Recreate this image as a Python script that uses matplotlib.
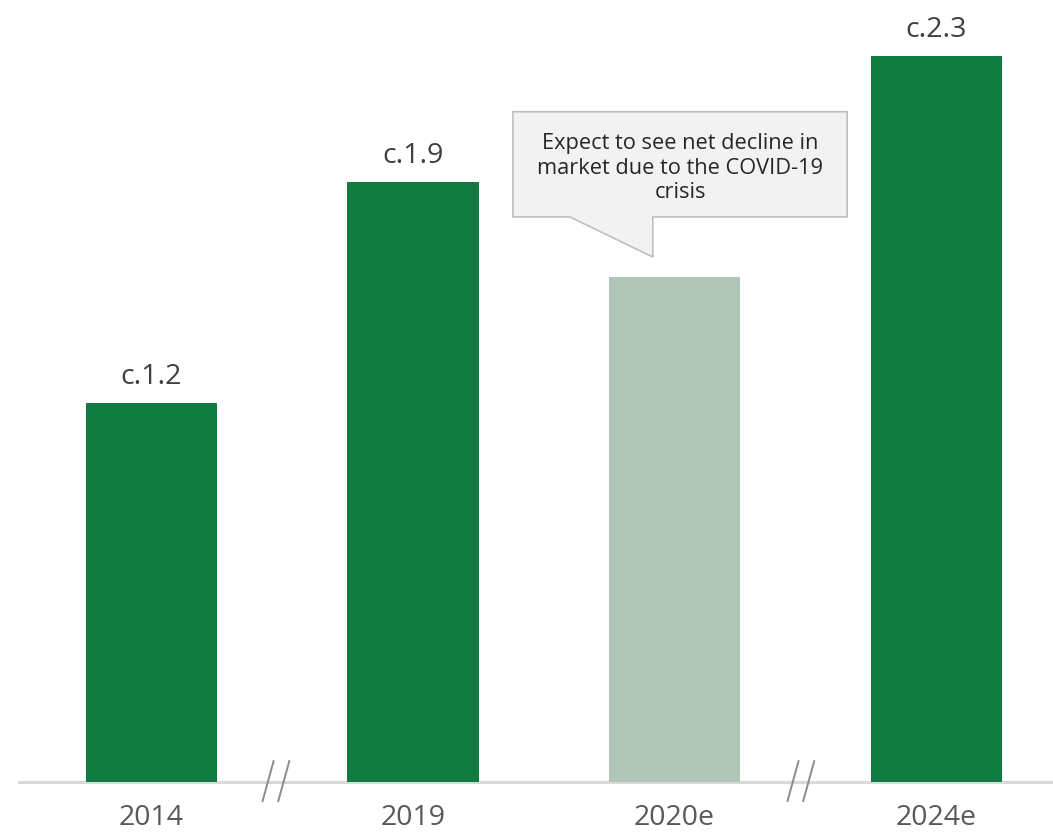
import matplotlib.pyplot as plt
from matplotlib.patches import Polygon

plt.rcParams['font.family'] = ['Open Sans', 'DejaVu Sans']

# data
years = ['2014', '2019', '2020e', '2024e']
values = [1.2, 1.9, 1.6, 2.3]
value_labels = ['c.1.2', 'c.1.9', '', 'c.2.3']
bar_colors = ['#107c41', '#107c41', '#afc6b9', '#107c41']
note = "Expect to see net decline in\nmarket due to the COVID-19\ncrisis"
break_positions = [0.476, 2.483]

fig = plt.figure(figsize=(10.53, 8.37), dpi=100)
ax = fig.add_axes([0, 54 / 837, 1, 783 / 837])

x = list(range(len(years)))
ax.bar(x, values, width=0.501, color=bar_colors, zorder=2)

for xi, v, lab in zip(x, values, value_labels):
    if lab:
        ax.annotate(lab, (xi, v), xytext=(0, 9), textcoords='offset points',
                    ha='center', va='bottom', fontsize=20.5, color='#404040')

ax.set_xlim(-0.579, 3.447)
ax.set_ylim(0, 2.479)

# baseline
ax.axhline(0, xmin=0.018, xmax=1, color='#d9d9d9', lw=2.2, zorder=1, clip_on=False)

# axis break marks
for bp in break_positions:
    for dx in (-0.03, 0.03):
        ax.plot([bp + dx - 0.021, bp + dx + 0.021], [-0.060, 0.066],
                color='#8c8c8c', lw=1.4, clip_on=False, zorder=3)

ax.set_xticks(x)
ax.set_xticklabels(years, fontsize=20.5, color='#595959')
ax.tick_params(axis='x', length=0, pad=15)
ax.set_yticks([])
for s in ax.spines.values():
    s.set_visible(False)

# callout box over the 2020e bar
callout = Polygon([(1.382, 2.122), (2.660, 2.122), (2.660, 1.789), (1.917, 1.789),
                   (1.917, 1.662), (1.600, 1.789), (1.382, 1.789)],
                  closed=True, facecolor='#f2f2f2', edgecolor='#bfbfbf', lw=1.2,
                  zorder=4)
ax.add_patch(callout)
ax.text(2.021, 1.947, note, ha='center', va='center', fontsize=15.7,
        color='#262626', linespacing=1.24, zorder=5)

fig.savefig('out.png', dpi=100)
